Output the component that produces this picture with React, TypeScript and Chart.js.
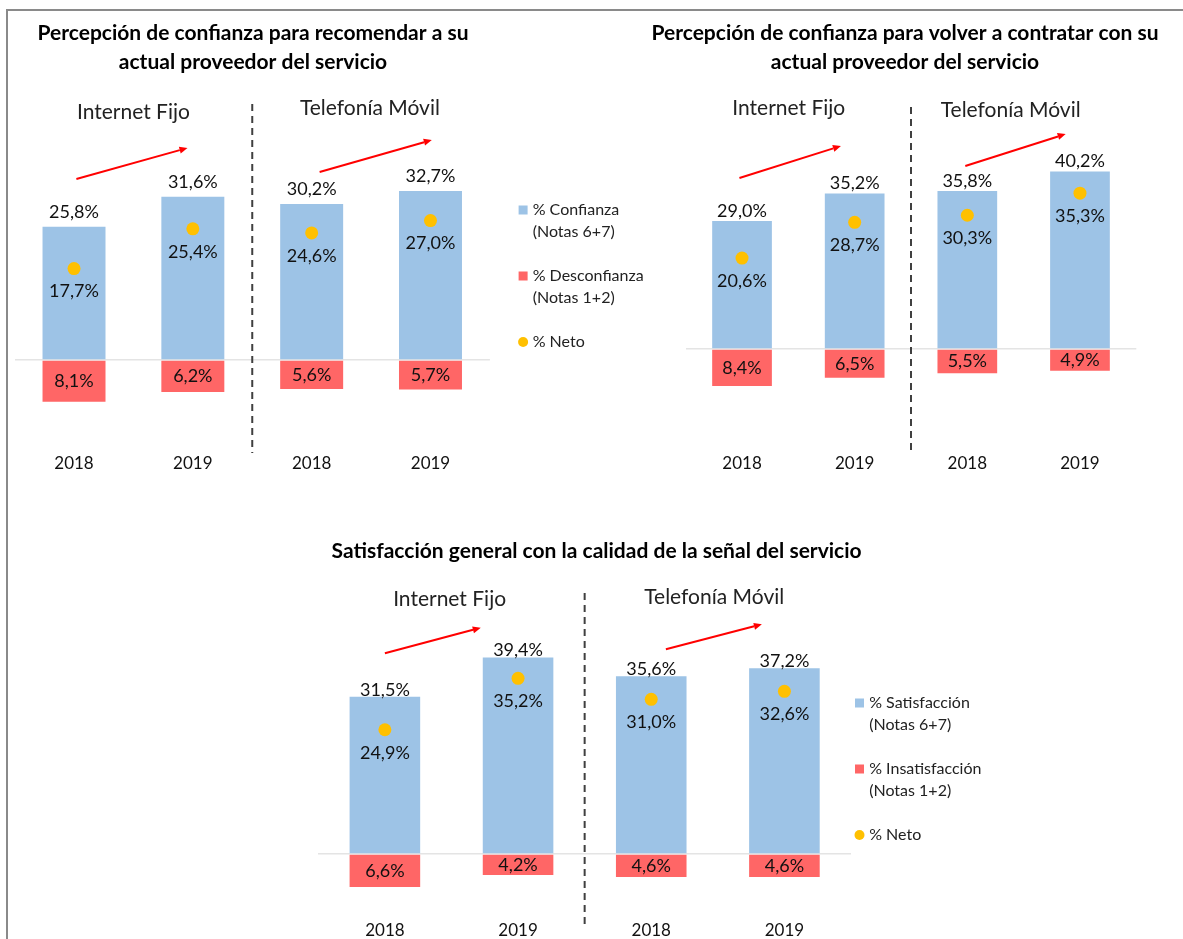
import React, { useEffect, useRef } from 'react';
import { Chart, registerables } from 'chart.js';

Chart.register(...registerables);

// ---------- data ----------
const years = ['2018', '2019', '2018', '2019'];
const groupLabels = ['Internet Fijo', 'Telefonía Móvil'];

const recomConfianza = [25.8, 31.6, 30.2, 32.7];
const recomDesconfianza = [8.1, 6.2, 5.6, 5.7];
const recomNeto = [17.7, 25.4, 24.6, 27.0];

const contratarConfianza = [29.0, 35.2, 35.8, 40.2];
const contratarDesconfianza = [8.4, 6.5, 5.5, 4.9];
const contratarNeto = [20.6, 28.7, 30.3, 35.3];

const senalSatisfaccion = [31.5, 39.4, 35.6, 37.2];
const senalInsatisfaccion = [6.6, 4.2, 4.6, 4.6];
const senalNeto = [24.9, 35.2, 31.0, 32.6];

const titleRecom = ['Percepción de confianza para recomendar a su', 'actual proveedor del servicio'];
const titleContratar = ['Percepción de confianza para volver a contratar con su', 'actual proveedor del servicio'];
const titleSenal = ['Satisfacción general con la calidad de la señal del servicio'];

const legendConfianza = [['% Confianza', '(Notas 6+7)'], ['% Desconfianza', '(Notas 1+2)'], ['% Neto']];
const legendSatisfaccion = [['% Satisfacción', '(Notas 6+7)'], ['% Insatisfacción', '(Notas 1+2)'], ['% Neto']];

// ---------- styles ----------
const FONT = 'Lato, "Open Sans", sans-serif';
const TEXT = '#111111';
const BLUE = '#9DC3E6';
const RED = '#FF6666';
const YELLOW = '#FFC000';
const TICK_SIZE = 17;
const TICK_LH = TICK_SIZE * 1.2;

type Arrow = { f0: number; y0: number; f1: number; y1: number };
type PanelCfg = {
  left: number; top: number; width: number; height: number;
  areaLeft: number; areaRight: number;
  baseline: number; k: number; yMax: number; yMin: number; labelCenter: number;
  pos: number[]; neg: number[]; net: number[];
  legend: string[][] | null; legendBoxX: number; legendTextX: number; legendY: number;
  title: string[]; titleX: number; titleY: number;
  groups: { f: number; y: number }[];
  arrows: Arrow[];
  dashY: [number, number];
  totalOffset: number;
};

const fmt = (v: number) => Math.abs(v).toFixed(1).replace('.', ',') + '%';

function makePlugin(p: PanelCfg) {
  return {
    id: 'decor',
    afterDatasetsDraw(chart: any) {
      const ctx = chart.ctx;
      ctx.save();
      ctx.font = `18px ${FONT}`;
      ctx.fillStyle = TEXT;
      ctx.textAlign = 'center';
      ctx.textBaseline = 'middle';
      const m0 = chart.getDatasetMeta(0);
      const m1 = chart.getDatasetMeta(1);
      const m2 = chart.getDatasetMeta(2);
      m0.data.forEach((el: any, i: number) => ctx.fillText(fmt(p.pos[i]), el.x, el.y + p.totalOffset));
      m1.data.forEach((el: any, i: number) => ctx.fillText(fmt(p.neg[i]), el.x, (el.y + el.base) / 2));
      m2.data.forEach((el: any, i: number) => ctx.fillText(fmt(p.net[i]), el.x, el.y + 23));
      ctx.restore();
    },
    afterDraw(chart: any) {
      const ctx = chart.ctx;
      const xs = chart.scales.x;
      const c0 = xs.getPixelForValue(0);
      const step = xs.getPixelForValue(1) - c0;
      const fx = (f: number) => c0 + f * step;
      ctx.save();
      // title
      ctx.font = `bold 21px ${FONT}`;
      ctx.fillStyle = '#000';
      ctx.textAlign = 'center';
      ctx.textBaseline = 'middle';
      p.title.forEach((t, i) => ctx.fillText(t, p.titleX, p.titleY + i * 29));
      // group labels
      ctx.font = `21px ${FONT}`;
      ctx.fillStyle = '#222222';
      p.groups.forEach((g, i) => ctx.fillText(groupLabels[i], fx(g.f), g.y));
      // dashed separator
      ctx.beginPath();
      ctx.setLineDash([7, 5]);
      ctx.strokeStyle = '#404040';
      ctx.lineWidth = 2;
      ctx.moveTo(fx(1.5), p.dashY[0]);
      ctx.lineTo(fx(1.5), p.dashY[1]);
      ctx.stroke();
      ctx.setLineDash([]);
      // arrows
      ctx.strokeStyle = '#FF0000';
      ctx.fillStyle = '#FF0000';
      ctx.lineWidth = 2;
      p.arrows.forEach((a) => {
        const x0 = fx(a.f0), x1 = fx(a.f1);
        const ang = Math.atan2(a.y1 - a.y0, x1 - x0);
        const hl = 8, hw = 3.5;
        const bx = x1 - Math.cos(ang) * hl, by = a.y1 - Math.sin(ang) * hl;
        ctx.beginPath();
        ctx.moveTo(x0, a.y0);
        ctx.lineTo(bx, by);
        ctx.stroke();
        ctx.beginPath();
        ctx.moveTo(x1, a.y1);
        ctx.lineTo(bx + Math.sin(ang) * hw, by - Math.cos(ang) * hw);
        ctx.lineTo(bx - Math.sin(ang) * hw, by + Math.cos(ang) * hw);
        ctx.closePath();
        ctx.fill();
      });
      // legend
      if (p.legend) {
        const colors = [BLUE, RED, YELLOW];
        ctx.font = `16px ${FONT}`;
        ctx.textAlign = 'left';
        p.legend.forEach((lines, j) => {
          const y = p.legendY + j * 66;
          ctx.fillStyle = colors[j];
          if (j < 2) {
            ctx.fillRect(p.legendBoxX, y - 4.5, 9, 9);
          } else {
            ctx.beginPath();
            ctx.arc(p.legendBoxX + 4.5, y, 5, 0, Math.PI * 2);
            ctx.fill();
          }
          ctx.fillStyle = '#222222';
          lines.forEach((t, li) => ctx.fillText(t, p.legendTextX, y + li * 22));
        });
      }
      ctx.restore();
    },
  };
}

function ChartPanel({ p }: { p: PanelCfg }) {
  const ref = useRef<HTMLCanvasElement | null>(null);
  useEffect(() => {
    if (!ref.current) return;
    const top = p.baseline - p.yMax * p.k;
    const bottom = p.baseline - p.yMin * p.k;
    const tickPad = p.labelCenter - TICK_LH / 2 - bottom;
    const padBottom = p.height - bottom - TICK_LH - 2 * tickPad;
    const chart = new Chart(ref.current, {
      type: 'bar',
      data: {
        labels: years,
        datasets: [
          { type: 'bar', label: 'pos', data: p.pos, backgroundColor: BLUE, stack: 's', order: 2, categoryPercentage: 0.53, barPercentage: 1 } as any,
          { type: 'bar', label: 'neg', data: p.neg.map((v) => -v), backgroundColor: RED, stack: 's', order: 2, categoryPercentage: 0.53, barPercentage: 1 } as any,
          { type: 'line', label: 'net', data: p.net, showLine: false, pointRadius: 6.5, pointBackgroundColor: YELLOW, pointBorderColor: YELLOW, pointBorderWidth: 0, stack: 'n', order: 0 } as any,
        ],
      },
      options: {
        responsive: false,
        animation: false,
        events: [],
        layout: { padding: { left: p.areaLeft, right: p.width - p.areaRight, top, bottom: padBottom }, autoPadding: false },
        plugins: { legend: { display: false }, title: { display: false }, tooltip: { enabled: false } },
        scales: {
          x: {
            stacked: true,
            grid: { display: false, drawTicks: false },
            border: { display: false },
            ticks: { padding: tickPad, font: { size: TICK_SIZE, family: FONT }, color: TEXT },
          },
          y: {
            stacked: true,
            min: p.yMin,
            max: p.yMax,
            afterBuildTicks: (ax: any) => { ax.ticks = [{ value: 0 }]; },
            grid: { color: '#E4E4E4', lineWidth: 1.5, drawTicks: false },
            border: { display: false },
            ticks: { display: false },
          },
        },
      } as any,
      plugins: [makePlugin(p) as any],
    });
    return () => chart.destroy();
  }, [p]);
  return (
    <canvas
      ref={ref}
      width={p.width}
      height={p.height}
      style={{ position: 'absolute', left: p.left, top: p.top, width: p.width, height: p.height, display: 'block' }}
    />
  );
}

const panelRecom: PanelCfg = {
  left: 0, top: 0, width: 680, height: 490,
  areaLeft: 14.6, areaRight: 489.9,
  baseline: 360, k: 5.165, yMax: 65, yMin: -16, labelCenter: 464,
  pos: recomConfianza, neg: recomDesconfianza, net: recomNeto,
  legend: legendConfianza, legendBoxX: 518.6, legendTextX: 532.7, legendY: 210,
  title: titleRecom, titleX: 253, titleY: 33,
  groups: [{ f: 0.5, y: 112 }, { f: 2.49, y: 108 }],
  arrows: [{ f0: 0.02, y0: 179, f1: 0.955, y1: 148 }, { f0: 2.067, y0: 172, f1: 3.011, y1: 140 }],
  dashY: [104, 453],
  totalOffset: -15,
};

const panelContratar: PanelCfg = {
  left: 600, top: 0, width: 583, height: 490,
  areaLeft: 85.7, areaRight: 536.3,
  baseline: 349, k: 4.415, yMax: 70, yMin: -22, labelCenter: 464,
  pos: contratarConfianza, neg: contratarDesconfianza, net: contratarNeto,
  legend: null, legendBoxX: 0, legendTextX: 0, legendY: 0,
  title: titleContratar, titleX: 305, titleY: 33,
  groups: [{ f: 0.415, y: 108 }, { f: 2.385, y: 110 }],
  arrows: [{ f0: -0.023, y0: 178, f1: 0.878, y1: 146 }, { f0: 1.982, y0: 166, f1: 2.873, y1: 134 }],
  dashY: [107, 455],
  totalOffset: -10,
};

const panelSenal: PanelCfg = {
  left: 290, top: 500, width: 720, height: 460,
  areaLeft: 28.3, areaRight: 561,
  baseline: 354, k: 4.99, yMax: 60, yMin: -12, labelCenter: 431,
  pos: senalSatisfaccion, neg: senalInsatisfaccion, net: senalNeto,
  legend: legendSatisfaccion, legendBoxX: 565, legendTextX: 579.2, legendY: 203,
  title: titleSenal, titleX: 306.6, titleY: 51,
  groups: [{ f: 0.486, y: 99 }, { f: 2.473, y: 97 }],
  arrows: [{ f0: 0, y0: 153.3, f1: 0.72, y1: 127.7 }, { f0: 2.11, y0: 149.3, f1: 2.831, y1: 124.3 }],
  dashY: [93, 427],
  totalOffset: -7,
};

export default function App() {
  return (
    <div style={{ position: 'absolute', left: 0, top: 0, width: 1183, height: 939, overflow: 'hidden', background: '#fff' }}>
      <div style={{ position: 'absolute', left: 6, top: 9, width: 1177, height: 2, background: '#8a8a8a' }} />
      <div style={{ position: 'absolute', left: 6, top: 9, width: 2, height: 930, background: '#8a8a8a' }} />
      <ChartPanel p={panelRecom} />
      <ChartPanel p={panelContratar} />
      <ChartPanel p={panelSenal} />
    </div>
  );
}
